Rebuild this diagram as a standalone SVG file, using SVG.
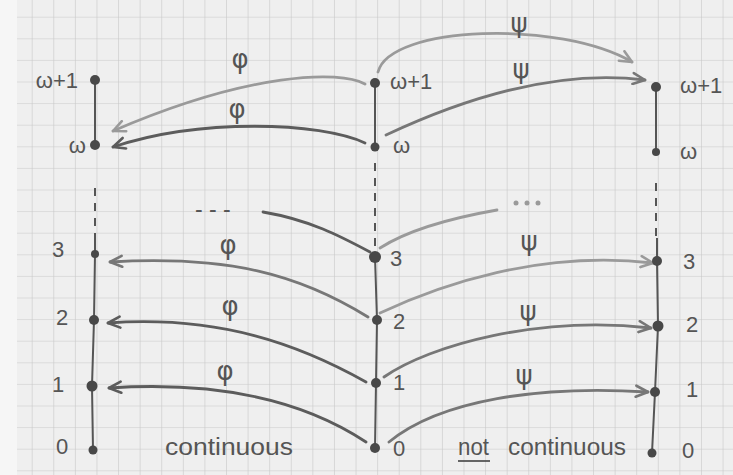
<svg xmlns="http://www.w3.org/2000/svg" width="733" height="475" viewBox="0 0 733 475">
<defs>
<pattern id="grid" x="10.1" y="-4.9" width="21.59" height="21.6" patternUnits="userSpaceOnUse">
<path d="M0,0 H21.59 M0,0 V21.6" fill="none" stroke="#c8c8c8" stroke-width="1.2"/>
</pattern>
<marker id="ah-light" viewBox="0 0 16 14" refX="14" refY="7" markerWidth="16" markerHeight="14" markerUnits="userSpaceOnUse" orient="auto">
<path d="M2,1.5 L14,7 L2,12.5" fill="none" stroke="#9a9a9a" stroke-width="2.6" stroke-linecap="round" stroke-linejoin="round"/>
</marker>
<marker id="ah-mid" viewBox="0 0 16 14" refX="14" refY="7" markerWidth="16" markerHeight="14" markerUnits="userSpaceOnUse" orient="auto">
<path d="M2,1.5 L14,7 L2,12.5" fill="none" stroke="#777" stroke-width="2.6" stroke-linecap="round" stroke-linejoin="round"/>
</marker>
<marker id="ah-dark" viewBox="0 0 16 14" refX="14" refY="7" markerWidth="16" markerHeight="14" markerUnits="userSpaceOnUse" orient="auto">
<path d="M2,1.5 L14,7 L2,12.5" fill="none" stroke="#5c5c5c" stroke-width="2.6" stroke-linecap="round" stroke-linejoin="round"/>
</marker>
</defs>
<style>
.arc{fill:none;stroke-width:2.8;stroke-linecap:round}
.light{stroke:#9a9a9a}
.mid{stroke:#777}
.dark{stroke:#5c5c5c}
.col{fill:none;stroke:#555;stroke-width:2}
.dash{stroke-dasharray:8 7}
.node{fill:#484848}
.lbl{font-family:"Liberation Sans","DejaVu Sans",sans-serif;font-size:22px;fill:#555}
.greek{font-family:"DejaVu Sans","Liberation Sans",sans-serif;font-size:26px;fill:#555;text-anchor:middle}
.word{font-family:"Liberation Sans","DejaVu Sans",sans-serif;font-size:23px;fill:#555}
</style>
<rect width="733" height="475" fill="#f6f6f6"/>
<rect x="17" y="0" width="716" height="475" fill="#efefef"/>
<rect x="17" y="0" width="716" height="475" fill="url(#grid)"/>

<g id="connectors">
<line class="col" x1="95" y1="80" x2="95" y2="145"/>
<line class="col dash" x1="95" y1="188" x2="95" y2="234"/>
<polyline class="col" points="95,234 95,254 94,320 92,386 93,450"/>
<line class="col" x1="375" y1="83" x2="375" y2="147"/>
<line class="col dash" x1="375" y1="163" x2="375" y2="250"/>
<polyline class="col" points="375,257 377,320 376,383 375,448"/>
<line class="col" x1="656" y1="87" x2="656" y2="152"/>
<line class="col dash" x1="656" y1="183" x2="656" y2="238"/>
<polyline class="col" points="657,238 657,261 658,326 655,392 652,453"/>

<path class="arc light" d="M365,84 C340,70 250,72 113,131" marker-end="url(#ah-light)"/>
<path class="arc dark" d="M365,143 C320,122 200,118 113,147" marker-end="url(#ah-dark)"/>
<path class="arc mid" d="M368,317 C300,275 230,255 110,262" marker-end="url(#ah-mid)"/>
<path class="arc dark" d="M366,382 C300,345 220,315 108,323" marker-end="url(#ah-dark)"/>
<path class="arc dark" d="M366,442 C310,405 230,380 109,388" marker-end="url(#ah-dark)"/>

<path class="arc light" d="M378,72 C390,25 560,20 632,62" marker-end="url(#ah-light)"/>
<path class="arc mid" d="M386,135 C450,105 550,68 645,80" marker-end="url(#ah-mid)"/>
<path class="arc light" d="M380,313 C440,285 540,250 653,263" marker-end="url(#ah-light)"/>
<path class="arc mid" d="M384,377 C430,345 540,315 651,328" marker-end="url(#ah-mid)"/>
<path class="arc mid" d="M389,442 C440,400 540,385 648,392" marker-end="url(#ah-mid)"/>

<path class="arc dark" d="M370,252 C340,236 310,220 263,212"/>
<path class="arc light" d="M380,248 C405,232 440,220 497,210"/>
<text class="word" x="195" y="217">- - -</text>
<g fill="#9a9a9a"><circle cx="516" cy="203" r="2.5"/><circle cx="527" cy="203" r="2.5"/><circle cx="538" cy="203" r="2.5"/></g>

<text class="greek" x="240" y="68">φ</text>
<text class="greek" x="237" y="118">φ</text>
<text class="greek" x="228" y="254">φ</text>
<text class="greek" x="230" y="315">φ</text>
<text class="greek" x="225" y="380">φ</text>
<text class="greek" x="519" y="32">ψ</text>
<text class="greek" x="521" y="78">ψ</text>
<text class="greek" x="529" y="250">ψ</text>
<text class="greek" x="528" y="320">ψ</text>
<text class="greek" x="524" y="384">ψ</text>
</g>

<g id="left-w1"><circle class="node" cx="95" cy="80" r="5"/><text class="lbl" x="78" y="88" text-anchor="end">ω+1</text></g>
<g id="left-w"><circle class="node" cx="95" cy="145" r="5"/><text class="lbl" x="86" y="153" text-anchor="end">ω</text></g>
<g id="left-3"><circle class="node" cx="95" cy="254" r="4"/><text class="lbl" x="58" y="257" text-anchor="middle">3</text></g>
<g id="left-2"><circle class="node" cx="94" cy="320" r="5"/><text class="lbl" x="62" y="325" text-anchor="middle">2</text></g>
<g id="left-1"><circle class="node" cx="92" cy="386" r="5.5"/><text class="lbl" x="58" y="392" text-anchor="middle">1</text></g>
<g id="left-0"><circle class="node" cx="93" cy="450" r="4.5"/><text class="lbl" x="62" y="454" text-anchor="middle">0</text></g>

<g id="mid-w1"><circle class="node" cx="375" cy="83" r="5"/><text class="lbl" x="390" y="89">ω+1</text></g>
<g id="mid-w"><circle class="node" cx="375" cy="147" r="4.5"/><text class="lbl" x="393" y="153">ω</text></g>
<g id="mid-3"><circle class="node" cx="375" cy="257" r="6"/><text class="lbl" x="390" y="266">3</text></g>
<g id="mid-2"><circle class="node" cx="377" cy="320" r="5"/><text class="lbl" x="393" y="329">2</text></g>
<g id="mid-1"><circle class="node" cx="376" cy="383" r="5"/><text class="lbl" x="393" y="390">1</text></g>
<g id="mid-0"><circle class="node" cx="375" cy="448" r="5"/><text class="lbl" x="393" y="456">0</text></g>

<g id="right-w1"><circle class="node" cx="656" cy="87" r="5"/><text class="lbl" x="680" y="93">ω+1</text></g>
<g id="right-w"><circle class="node" cx="656" cy="152" r="4"/><text class="lbl" x="680" y="159">ω</text></g>
<g id="right-3"><circle class="node" cx="657" cy="261" r="5"/><text class="lbl" x="683" y="269">3</text></g>
<g id="right-2"><circle class="node" cx="658" cy="326" r="5.5"/><text class="lbl" x="686" y="332">2</text></g>
<g id="right-1"><circle class="node" cx="655" cy="392" r="5"/><text class="lbl" x="686" y="397">1</text></g>
<g id="right-0"><circle class="node" cx="652" cy="453" r="4.5"/><text class="lbl" x="682" y="458">0</text></g>

<g id="captions">
<text class="word" x="165" y="455" textLength="128" lengthAdjust="spacingAndGlyphs">continuous</text>
<text class="word" x="458" y="455" textLength="31" lengthAdjust="spacingAndGlyphs">not</text>
<line x1="458" y1="461" x2="490" y2="461" stroke="#555" stroke-width="1.8"/>
<text class="word" x="508" y="455" textLength="118" lengthAdjust="spacingAndGlyphs">continuous</text>
</g>
</svg>
